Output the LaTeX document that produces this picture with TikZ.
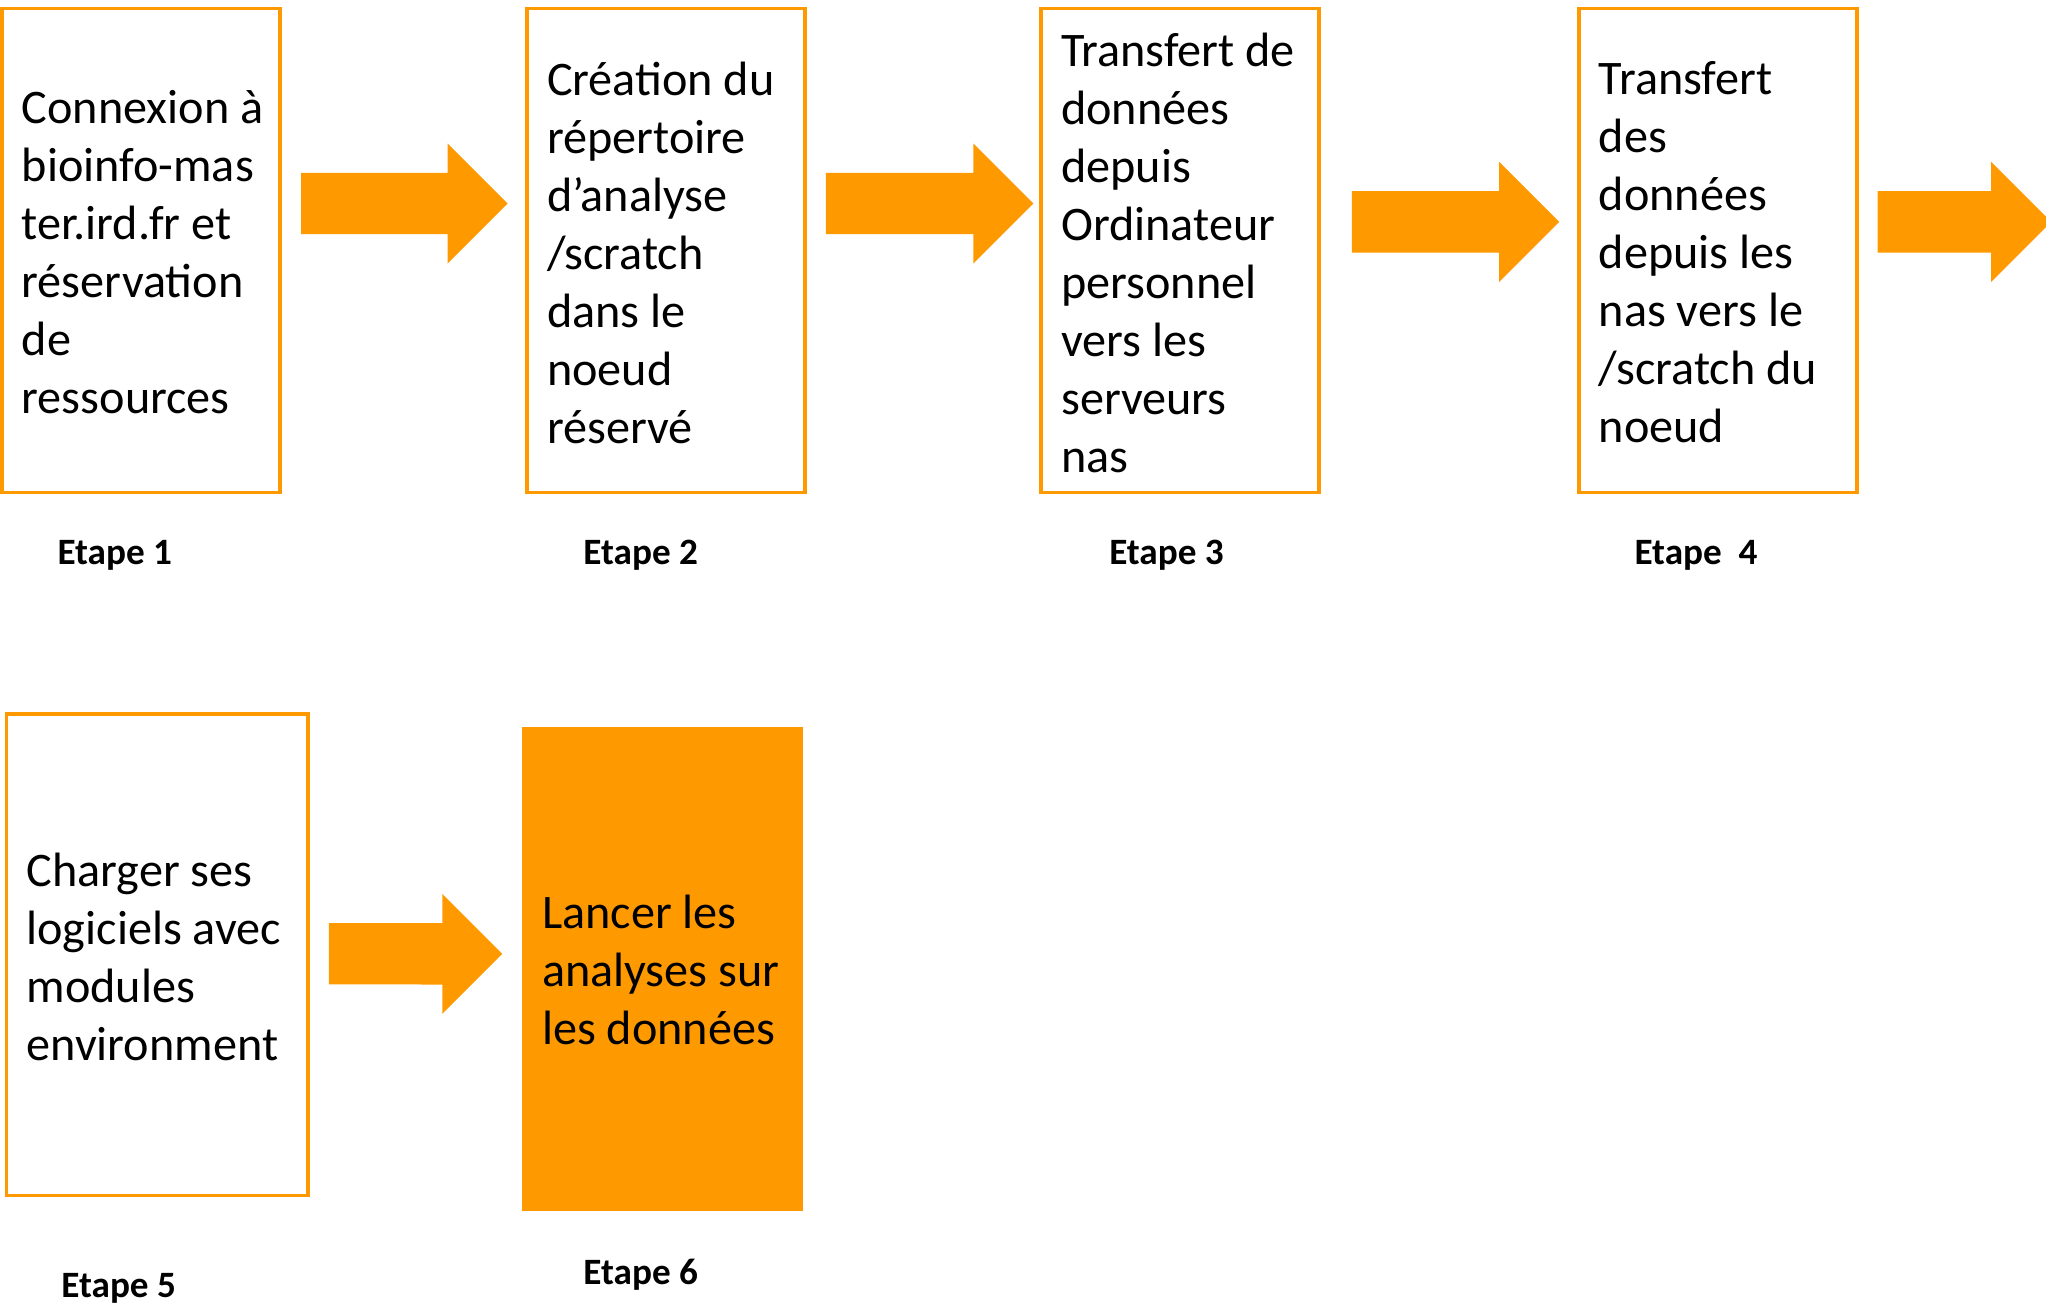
\documentclass[tikz,border=0pt]{standalone}
\usepackage{fontspec}
\setmainfont{Carlito}
\usetikzlibrary{calc}
\definecolor{orng}{RGB}{255,153,0}
\newcommand\blockarrow[2]{%
  \fill[arrowfill] ($(#1)+(0,-30.7)$) -- ($(#2)+(-60,-30.7)$) -- ($(#2)+(-60,-60)$) -- (#2)
    -- ($(#2)+(-60,60)$) -- ($(#2)+(-60,30.7)$) -- ($(#1)+(0,30.7)$) -- cycle;}
\begin{document}
\begin{tikzpicture}[x=0.5pt,y=-0.5pt,
  stepbox/.style={draw=orng, line width=1.8pt, inner sep=0pt, outer sep=0pt, anchor=north west},
  filledbox/.style={fill=orng, inner sep=0pt, outer sep=0pt, anchor=north west},
  boxtext/.style={anchor=west, align=left, inner sep=0pt, font=\fontsize{24.1}{29}\selectfont},
  steplabel/.style={font=\bfseries\fontsize{18.6}{22}\selectfont, inner sep=0pt},
  arrowfill/.style={fill=orng}]
\useasboundingbox (0,0) rectangle (2046,1303);
\clip (0,0) rectangle (2046,1303);

% boxes
\node[stepbox, minimum width=139pt, minimum height=242pt] (b1) at (2.2,8.5) {};
\node[stepbox, minimum width=139pt, minimum height=242pt] (b2) at (527,8.5) {};
\node[stepbox, minimum width=139pt, minimum height=242pt] (b3) at (1041.2,8.5) {};
\node[stepbox, minimum width=139pt, minimum height=242pt] (b4) at (1578.8,8.5) {};
\node[stepbox, minimum width=150.75pt, minimum height=240.75pt] (b5) at (6.5,714) {};
\node[filledbox, minimum width=140.25pt, minimum height=242pt] (b6) at (522,726.8) {};

% texts
\node[boxtext] (t1) at ([xshift=9.6pt,yshift=-1pt]b1.west) {Connexion à\\bioinfo-mas\\ter.ird.fr et\\réservation\\de\\ressources};
\node[boxtext] (t2) at ([xshift=9.8pt,yshift=-1pt]b2.west) {Création du\\répertoire\\d’analyse\\/scratch\\dans le\\noeud\\réservé};
\node[boxtext] (t3) at ([xshift=9.8pt,yshift=-1pt]b3.west) {Transfert de\\données\\depuis\\Ordinateur\\personnel\\vers les\\serveurs\\nas};
\node[boxtext] (t4) at ([xshift=9.8pt,yshift=-1pt]b4.west) {Transfert\\des\\données\\depuis les\\nas vers le\\/scratch du\\noeud};
\node[boxtext] (t5) at ([xshift=9.8pt,yshift=-1pt]b5.west) {Charger ses\\logiciels avec\\modules\\environment};
\node[boxtext] (t6) at ([xshift=9.8pt,yshift=-0.5pt]b6.west) {Lancer les\\analyses sur\\les données};

% step labels
\node[steplabel] (e1) at (114.8,555) {Etape 1};
\node[steplabel] (e2) at (640.7,555) {Etape 2};
\node[steplabel] (e3) at (1166.5,555) {Etape 3};
\node[steplabel] (e4) at (1696,555) {Etape\ \ 4};
\node[steplabel] (e5) at (118.7,1288) {Etape 5};
\node[steplabel] (e6) at (640.7,1275) {Etape 6};

% block arrows
\coordinate (a1s) at ($(b1.north east)+(20.9,195)$);
\coordinate (a1e) at ($(b2.north west)+(-19.4,195)$);
\coordinate (a2s) at ($(b2.north east)+(20.9,195)$);
\coordinate (a2e) at ($(b3.north west)+(-7.8,195)$);
\coordinate (a3s) at ($(b3.north east)+(32.6,213.3)$);
\coordinate (a3e) at ($(b4.north west)+(-19.6,213.3)$);
\coordinate (a4s) at ($(b4.north east)+(20.9,213.3)$);
\coordinate (a4e) at ($(b4.north east)+(194.4,213.3)$);
\coordinate (a5s) at ($(b5.north east)+(20.8,239.7)$);
\coordinate (a5e) at ($(b6.north west)+(-19.7,227)$);
\blockarrow{a1s}{a1e}
\blockarrow{a2s}{a2e}
\blockarrow{a3s}{a3e}
\blockarrow{a4s}{a4e}
\blockarrow{a5s}{a5e}
\end{tikzpicture}
\end{document}
